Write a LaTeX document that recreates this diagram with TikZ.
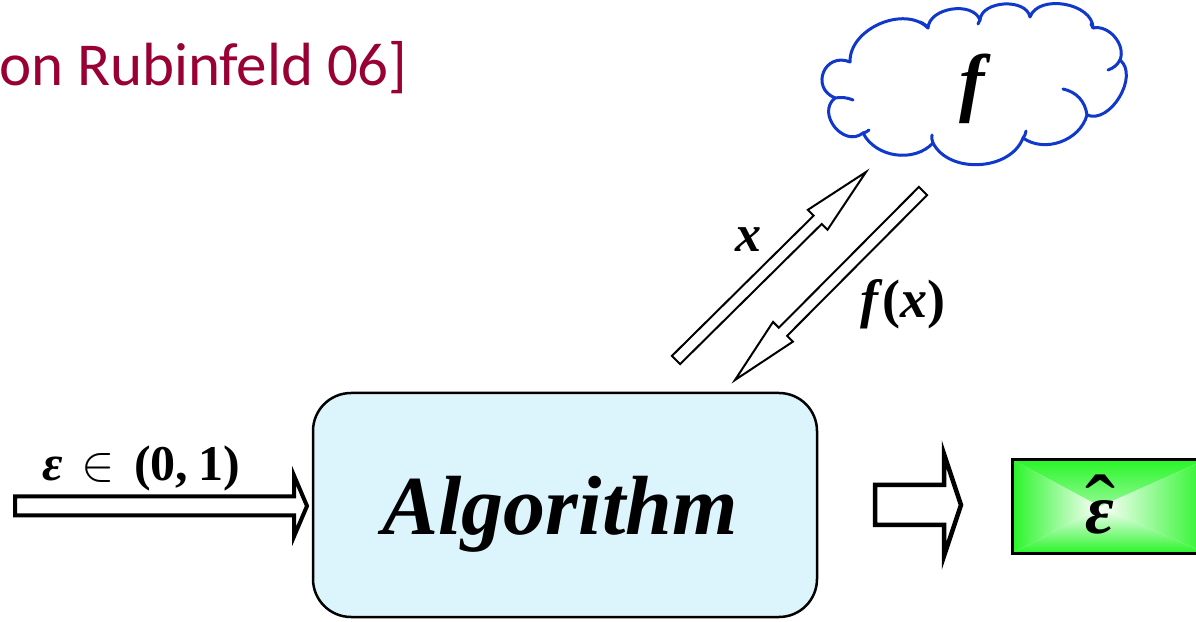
\RequirePackage{fix-cm}
\documentclass[tikz,border=0pt]{standalone}
\usepackage{amsmath}
\usepackage{fontspec}
\usetikzlibrary{calc}
\newfontfamily\slidesans{Carlito}
\newfontfamily\slideserif{Liberation Serif}
\newcommand\bfit{\slideserif\bfseries\itshape}
\newcommand\bfup{\slideserif\bfseries\upshape}
\definecolor{citered}{RGB}{153,0,51}
\definecolor{cloudblue}{RGB}{16,56,204}
\definecolor{algofill}{RGB}{220,245,252}
\definecolor{outgreen}{RGB}{40,245,40}

% hollow block arrow: #1 style, #2 tail, #3 tip, #4 half shaft width,
% #5 half head width, #6 head length
\newcommand\blockarrow[6]{%
  \coordinate (ba-h) at ($(#3)!#6!(#2)$);
  \draw[#1] ($(#2)!#4!90:(#3)$) -- ($(ba-h)!#4!90:(#3)$) -- ($(ba-h)!#5!90:(#3)$)
    -- (#3) -- ($(ba-h)!#5!-90:(#3)$) -- ($(ba-h)!#4!-90:(#3)$)
    -- ($(#2)!#4!-90:(#3)$) -- cycle;}

\tikzset{
  sized/.style={inner sep=0pt, font=\fontsize{#1}{#1}\selectfont},
  thinblock/.style={draw=black, fill=white, line width=2pt, line join=miter},
  thickblock/.style={draw=black, fill=white, line width=4.5pt, line join=miter},
  cloudline/.style={draw=cloudblue, line width=3pt, line join=round, line cap=round},
}

\begin{document}
\begin{tikzpicture}[x=1pt,y=1pt]
\useasboundingbox (0,0) rectangle (1196,621);

% reference line
\node[font=\slidesans\fontsize{61}{70}\selectfont, text=citered, anchor=base east,
      inner sep=0pt] (cite) at (408,535) {on Rubinfeld 06]};

% the oracle: a cloud of puffs
\path[cloudline, fill=white]
  (850,559) to[bend left=68] (928,593) to[bend left=78] (980,601)
  to[bend left=82] (1030,604) to[bend left=80] (1093,593)
  to[bend left=62] (1120,561) to[bend left=82] (1087,506)
  to[bend left=55] (1023,483) to[bend left=66] (933,478)
  to[bend left=55] (863,488) to[bend left=90, looseness=1.4] (835,523)
  to[bend left=90, looseness=1.8] (850,559) -- cycle;
% inner puff seams
\draw[cloudline] (1087,506) to[bend right=35] (1063,532);
\draw[cloudline] (1120,561) to[bend left=20] (1108,551);
\draw[cloudline] (835,523) to[bend left=15] (853,521);
\draw[cloudline] (863,488) to[bend right=15] (869,491);
\draw[cloudline] (933,478) to[bend left=15] (932,486);
\draw[cloudline] (1023,483) to[bend right=15] (1026,490);
\draw[cloudline] (928,593) to[bend right=15] (920,599);
\draw[cloudline] (980,601) to[bend left=15] (978,597);
\draw[cloudline] (1093,593) to[bend left=15] (1091,597);
\node[sized=76] (fname) at (972,532) {\bfit f};

% the algorithm
\node[draw=black, line width=2.5pt, fill=algofill, rounded corners=38pt,
      minimum width=504pt, minimum height=224pt, inner sep=0pt] (alg) at (565,116) {};
\node[font=\bfit\fontsize{84}{90}\selectfont, anchor=base,
      inner sep=0pt] (algname) at (560,86) {Algorithm};

% the output estimate
\coordinate (glow) at (1100,114.5);
\node[draw=black, line width=3pt, inner sep=0pt, anchor=west,
      minimum width=194pt, minimum height=94pt,
      path picture={
        \shade[top color=outgreen, bottom color=white]
          (path picture bounding box.north west) -- (path picture bounding box.north east) -- (glow) -- cycle;
        \shade[top color=white, bottom color=outgreen]
          (path picture bounding box.south west) -- (path picture bounding box.south east) -- (glow) -- cycle;
        \shade[left color=outgreen, right color=white]
          (path picture bounding box.south west) -- (path picture bounding box.north west) -- (glow) -- cycle;
        \shade[left color=white, right color=outgreen]
          (path picture bounding box.south east) -- (path picture bounding box.north east) -- (glow) -- cycle;
      }] (est) at (1010.5,114.5) {};
\node[sized=70, anchor=base] (estname) at (1100,88)
  {\ooalign{\hfil{\slideserif\upshape\fontsize{90}{90}\selectfont\raisebox{-4pt}{ˆ}}\hfil\cr
            \hfil{\bfit ε}\hfil\cr}};

% input accuracy arrow
\coordinate (epsin) at (15,115);
\coordinate (epsend) at (307,115);
\blockarrow{thickblock, line width=4pt}{epsin}{epsend}{9.5pt}{30.5pt}{13pt}
\node[sized=50] (epslbl) at (141,153)
  {{\bfit ε}\hspace{19pt}$\in$\hspace{19pt}{\bfup(0,\hspace{10pt}1)}};

% output arrow
\coordinate (outtail) at (875,116);
\coordinate (outtip) at (961,116);
\blockarrow{thickblock}{outtail}{outtip}{20pt}{51pt}{17pt}

% query and answer
\coordinate (qtail) at (676,261);
\coordinate (qtip) at (866,449);
\blockarrow{thinblock}{qtail}{qtip}{5.8pt}{14pt}{68pt}
\coordinate (atail) at (923,430);
\coordinate (atip) at (735,241);
\blockarrow{thinblock}{atail}{atip}{5.8pt}{14pt}{68pt}
\node[sized=52] (xlbl) at (748,381) {\bfit x};
\node[sized=54] (fxlbl) at (903,317) {\bfit f\/{\bfup(}x\/{\bfup)}};
\end{tikzpicture}
\end{document}
